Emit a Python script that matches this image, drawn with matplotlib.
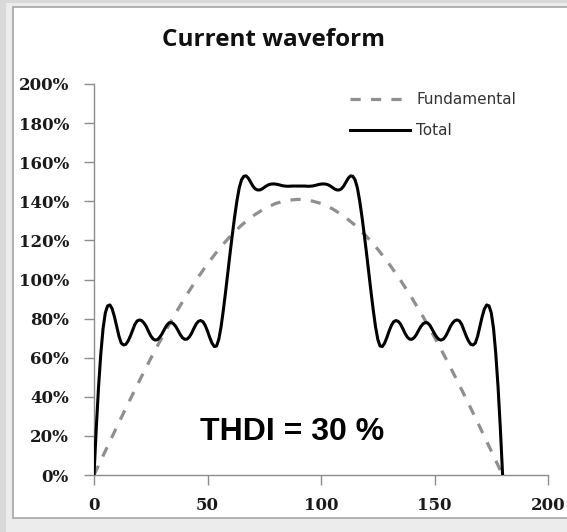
import matplotlib
matplotlib.use("Agg")
import matplotlib.pyplot as plt
from matplotlib.patches import Rectangle
from matplotlib.ticker import FuncFormatter

# ---- data ----
fund_x = [0, 5, 10, 15, 20, 25, 30, 35, 40, 45, 50, 55, 60, 65, 70, 75, 80, 85, 90,
          95, 100, 105, 110, 115, 120, 125, 130, 135, 140, 145, 150, 155, 160, 165, 170, 175, 180]
fund_y = [0, 12.3, 24.5, 36.5, 48.2, 59.6, 70.5, 80.9, 90.6, 99.7, 108, 115.5, 122.1, 127.8,
          132.5, 136.2, 138.9, 140.5, 141,
          140.5, 138.9, 136.2, 132.5, 127.8, 122.1, 115.5, 108, 99.7, 90.6, 80.9, 70.5, 59.6,
          48.2, 36.5, 24.5, 12.3, 0]

total_x = list(range(0, 181))
total_y = [0, 24, 45, 62, 75, 83, 86.5, 87, 85, 81, 76, 71, 67.5, 66.5, 66.8, 68.5, 71, 74, 77,
           78.8, 79.3, 79, 77.8, 76, 73.5, 71.2, 69.6, 69, 69.3, 70.5, 72.3, 74.5, 76.5, 77.8,
           78, 77.4, 76, 74, 71.8, 70.2, 69.4, 69.5, 70.6, 72.5, 75, 77.2, 78.6, 79, 78.4, 76.5,
           73.6, 70.3, 67.4, 65.7, 66, 69.5, 76, 84.5, 94, 104, 114, 123.5, 132.5, 140.5, 147,
           151, 152.8, 153, 151.8, 149.8, 147.8, 146.4, 145.8, 145.8, 146.3, 147.1, 147.9,
           148.5, 148.8, 148.9, 148.8, 148.6, 148.3, 148.0, 147.8, 147.7, 147.7, 147.8, 147.8,
           147.8, 147.8,
           147.8, 147.8, 147.8, 147.7, 147.7, 147.8, 148.0, 148.3, 148.6, 148.8, 148.9, 148.8,
           148.5, 147.9, 147.1, 146.3, 145.8, 145.8, 146.4, 147.8, 149.8, 151.8, 153, 152.8,
           151, 147, 140.5, 132.5, 123.5, 114, 104, 94, 84.5, 76, 69.5, 66, 65.7, 67.4, 70.3,
           73.6, 76.5, 78.4, 79, 78.6, 77.2, 75, 72.5, 70.6, 69.5, 69.4, 70.2, 71.8, 74, 76,
           77.4, 78, 77.8, 76.5, 74.5, 72.3, 70.5, 69.3, 69, 69.6, 71.2, 73.5, 76, 77.8, 79,
           79.3, 78.8, 77, 74, 71, 68.5, 66.8, 66.5, 67.5, 71, 76, 81, 85, 87, 86.5, 83, 75, 62,
           45, 24, 0]

x_ticks = [0, 50, 100, 150, 200]
y_ticks = [0, 20, 40, 60, 80, 100, 120, 140, 160, 180, 200]
title = "Current waveform"
annotation = "THDI = 30 %"
labels = ["Fundamental", "Total"]

W, H = 567, 532
fig = plt.figure(figsize=(W / 100, H / 100), dpi=100)
fig.patch.set_facecolor("#d9d9d9")

# chart frame
fig.patches.append(Rectangle((6 / W, 0), 1, 1 - 3 / H, transform=fig.transFigure,
                             facecolor="#ececec", edgecolor="none", zorder=-3))
fig.patches.append(Rectangle((13 / W, 14 / H), 1, 1 - 7 / H - 14 / H, transform=fig.transFigure,
                             facecolor="white", edgecolor="#a6a6a6", linewidth=1.2, zorder=-2))

ax = fig.add_axes([94 / W, (H - 475) / H, (548 - 94) / W, (475 - 84) / H])
ax.set_facecolor("none")

ax.plot(fund_x, fund_y, color="#8f8f8f", linewidth=2.3, dashes=(3.2, 3.2),
        label=labels[0], zorder=3)
ax.plot(total_x, total_y, color="black", linewidth=2.2, label=labels[1], zorder=4)

ax.set_xlim(0, 200)
ax.set_ylim(0, 200)
ax.set_xticks(x_ticks)
ax.set_yticks(y_ticks)
ax.yaxis.set_major_formatter(FuncFormatter(lambda v, p: f"{int(v)}%"))

for s in ["top", "right"]:
    ax.spines[s].set_visible(False)
for s in ["left", "bottom"]:
    ax.spines[s].set_color("#8c8c8c")
    ax.spines[s].set_linewidth(1.0)

ax.tick_params(axis="both", direction="out", length=7, width=1.0, color="#8c8c8c",
               labelsize=12, labelcolor="#1a1a1a")
ax.tick_params(axis="y", pad=11)
ax.tick_params(axis="x", pad=9)
for lab in ax.get_xticklabels() + ax.get_yticklabels():
    lab.set_fontfamily("DejaVu Serif")
    lab.set_fontweight("bold")

leg = ax.legend(loc="upper left", bbox_to_anchor=((350 - 94) / (548 - 94), 1 - (92 - 84) / (475 - 84)),
                frameon=False, handlelength=3.9, handletextpad=0.45, labelspacing=1.05,
                borderaxespad=0, borderpad=0,
                prop={"family": "DejaVu Sans", "size": 11})
for t in leg.get_texts():
    t.set_color("#333333")

fig.text(273 / W, 1 - 40 / H, title, ha="center", va="center",
         fontfamily="Open Sans", fontweight="bold", fontsize=17.5, color="#111111")

ax.text(292 / W, 1 - 432 / H, annotation, transform=fig.transFigure, ha="center", va="center",
        fontfamily="Liberation Sans", fontweight="bold", fontsize=23, color="black")

fig.savefig("out.png", dpi=100, facecolor=fig.get_facecolor())
